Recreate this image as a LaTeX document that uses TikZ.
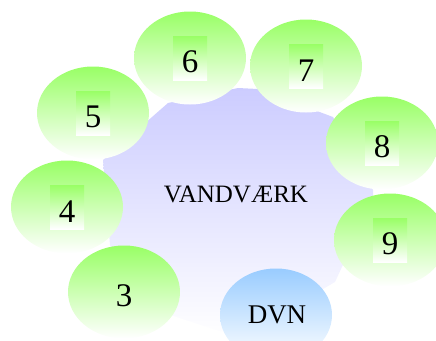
\documentclass[tikz,border=0pt]{standalone}
\usepackage{fontspec}
\setmainfont{Liberation Serif}
\usetikzlibrary{shapes.geometric}

\definecolor{leafgreen}{RGB}{153,255,102}
\definecolor{lavender}{RGB}{204,204,255}
\definecolor{skyblue}{RGB}{153,204,255}

\begin{document}
\begin{tikzpicture}[x=1pt, y=-1pt,
    blob/.style={ellipse, minimum width=112pt, minimum height=93pt, inner sep=0pt,
                 top color=leafgreen, bottom color=white},
    tag/.style={rectangle, minimum width=34pt, minimum height=44pt, inner sep=0pt,
                top color=leafgreen, bottom color=white,
                text height=30pt, font=\fontsize{33}{33}\selectfont},
    plain/.style={font=\fontsize{33}{33}\selectfont, text height=30pt}]
    \useasboundingbox (0,0) rectangle (436,340);

    % Draw the waterworks body
    \shade[top color=lavender, bottom color=white]
        (103,160) -- (168,103) -- (238,88) -- (258,89) -- (333,117) -- (373,190)
        -- (373,200) -- (335,282) -- (240,338) -- (140,305) -- (110,245) -- cycle;
    \node (vv) at (236,194) {\fontsize{25}{25}\selectfont VANDVÆRK};

    % Draw the wells
    \node[blob] (e6) at (190,58) {};
    \node[tag] (t6) at (e6) {6};
    \node[blob] (e7) at (306,66) {};
    \node[tag] (t7) at (e7) {7};
    \node[blob] (e5) at (93,113) {};
    \node[tag] (t5) at (e5) {5};
    \node[blob] (e8) at (382,143) {};
    \node[tag] (t8) at (e8) {8};
    \node[blob] (e4) at (67,207) {};
    \node[tag] (t4) at (e4) {4};
    \node[blob] (e9) at (390,240) {};
    \node[tag] (t9) at (e9) {9};
    \node[blob] (e3) at (124,292) {};
    \node[plain] (t3) at (e3) {3};

    % Draw the DVN well
    \node[blob, top color=skyblue] (dvn) at (276,315) {};
    \node (tdvn) at (277,315) {\fontsize{27}{27}\selectfont DVN};
\end{tikzpicture}
\end{document}
